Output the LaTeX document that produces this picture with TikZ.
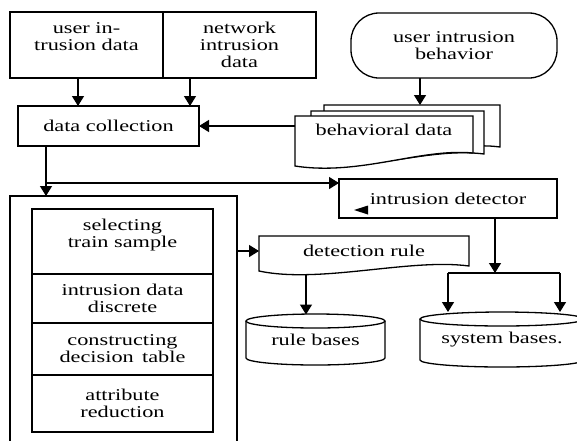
\documentclass[tikz,border=0pt]{standalone}
\usepackage{fontspec}
\setmainfont[FakeStretch=1.35]{Liberation Serif}
\usetikzlibrary{arrows.meta,calc,positioning}

\begin{document}
\begin{tikzpicture}
    [x=1pt, y=-1pt, line width=1.3pt,
      font=\fontsize{16.5}{17}\selectfont,
      box/.style={draw, rectangle, inner sep=0pt, outer sep=0pt, align=center},
      plain/.style={inner sep=0pt, outer sep=0pt, align=center},
      arr/.style={-{Triangle[length=10pt,width=12pt]}},
    ]
    \useasboundingbox (0,0) rectangle (577,440);

    \node [box, minimum width=153, minimum height=66] (uid) at (86.5,45) {user in-\\trusion data\\\mbox{}};
    \node [box, minimum width=153, minimum height=66] (nid) at (239.5,45) {network\\intrusion\\data};
    \node [box, rounded corners=28, minimum width=206, minimum height=65] (uib) at (454,45.5) {user intrusion\\behavior};
    \node [box, minimum width=181, minimum height=40] (dc) at (108.5,126) {data collection};

    \draw [fill=white] (324,105) -- (500,105) -- (500,147) .. controls (450,140) and (380,168) .. (324,158) -- cycle;
    \draw [fill=white] (311,111) -- (484,111) -- (484,154) .. controls (430,147) and (370,172) .. (311,164) -- cycle;
    \draw [fill=white] (295,116) -- (473,116) -- (473,153) .. controls (420,148) and (360,176) .. (295,166) -- cycle;
    \node [plain, minimum width=178, minimum height=28] (bd) at (384,130) {behavioral data};

    \node [box, minimum width=218, minimum height=39] (id) at (448,198.5) {intrusion detector};
    \fill (368,205.5) -- (354,210) -- (368,214.5) -- cycle;

    \node [box, minimum width=227, minimum height=250] (outer) at (123.5,321) {};
    \node [box, minimum width=181, minimum height=65] (c1) at (122.5,241.5) {selecting\\train sample\\\mbox{}};
    \node [box, minimum width=181, minimum height=49, below=0pt of c1] (c2) {intrusion data\\discrete};
    \node [box, minimum width=181, minimum height=52, below=0pt of c2] (c3) {constructing\\decision\, table};
    \node [box, minimum width=181, minimum height=57, below=0pt of c3] (c4) {attribute\\reduction};

    \draw (259,236) -- (469,236) -- (469,266) .. controls (410,258) and (320,284) .. (259,271) -- cycle;
    \node [plain, minimum width=210, minimum height=30] (dr) at (364,251) {detection rule};

    \draw (246,321) -- (246,358) arc[start angle=180, end angle=0, x radius=69.5, y radius=7] -- (385,321);
    \draw (315.5,321) ellipse [x radius=69.5, y radius=7];
    \node [plain, minimum width=139, minimum height=51] (rb) at (315.5,340) {rule bases};

    \draw (420,319) -- (420,360) arc[start angle=180, end angle=0, x radius=82, y radius=7] -- (584,319);
    \draw (502,319) ellipse [x radius=82, y radius=7];
    \node [plain, minimum width=164, minimum height=55] (sb) at (502,339.5) {system bases.};

    \coordinate (stack) at (420,105);
    \coordinate (fork) at (46,183);
    \coordinate (drout) at (306,274);
    \coordinate (split) at (495,273);
    \coordinate (sl) at (448,273);
    \coordinate (sr) at (560,273);

    \draw [arr] ([xshift=-8.5]uid.south) -- ([xshift=-8.5]uid.south |- dc.north);
    \draw [arr] ([xshift=-49.5]nid.south) -- ([xshift=-49.5]nid.south |- dc.north);
    \draw [arr] (uib.south -| stack) -- (stack);
    \draw [arr] (bd.west |- dc.east) -- (dc.east);
    \draw [arr] (dc.south -| fork) -- (fork |- outer.north);
    \draw [arr] (fork) -- (fork -| id.west);
    \draw [arr] (outer.east |- dr.west) -- (dr.west);
    \draw [arr] (drout) -- (drout |- rb.north);
    \draw [arr] (id.south -| split) -- (split);
    \draw (sl) -- (sr);
    \draw [arr] (sl) -- (sl |- sb.north);
    \draw [arr] (sr) -- (sr |- sb.north);
\end{tikzpicture}
\end{document}
